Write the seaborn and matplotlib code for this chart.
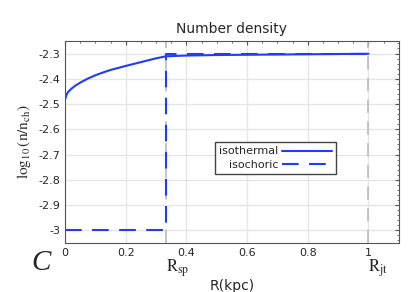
import matplotlib
matplotlib.use("Agg")
import matplotlib.pyplot as plt
import matplotlib.transforms as mtransforms
from matplotlib.ticker import MultipleLocator, FuncFormatter
import numpy as np
import pandas as pd
import seaborn as sns

# isothermal profile
r_iso = [0.0, 0.005, 0.01, 0.02, 0.035, 0.05, 0.075, 0.1, 0.125, 0.15, 0.2, 0.25, 0.3, 0.333,
         0.4, 0.5, 0.6, 0.7, 0.8, 0.9, 1.0]
n_iso = [-2.48, -2.462, -2.452, -2.44, -2.426, -2.415, -2.399, -2.386, -2.375, -2.365, -2.349,
         -2.334, -2.319, -2.311, -2.308, -2.306, -2.305, -2.304, -2.303, -2.302, -2.301]

# isochoric profile (step at R_sp)
r_ich = [0.0, 0.333, 0.333, 1.0]
n_ich = [-3.0, -3.0, -2.3, -2.3]

r_marks = [0.333, 1.0]
mark_labels = [r"$\mathrm{R_{sp}}$", r"$\mathrm{R_{jt}}$"]

sns.set_style("white")
plt.rcParams["mathtext.fontset"] = "stix"

blue = "#1e3cff"
fig = plt.figure(figsize=(4.15, 2.92), dpi=100)
ax = fig.add_axes([0.157, 0.168, 0.804, 0.692])

df_iso = pd.DataFrame({"R": r_iso, "n": n_iso})
df_ich = pd.DataFrame({"R": r_ich, "n": n_ich})

for xm in r_marks:
    ax.axvline(xm, color="#bbbbbb", lw=1.2, ls=(0, (8, 5)), zorder=1)

sns.lineplot(data=df_iso, x="R", y="n", ax=ax, color=blue, lw=1.5,
             estimator=None, sort=False, label="isothermal")
sns.lineplot(data=df_ich, x="R", y="n", ax=ax, color=blue, lw=1.5,
             estimator=None, sort=False, label="isochoric", linestyle=(0, (8, 5)))

ax.set_xlim(0, 1.1)
ax.set_ylim(-3.05, -2.25)
ax.xaxis.set_major_locator(MultipleLocator(0.2))
ax.xaxis.set_minor_locator(MultipleLocator(0.05))
ax.yaxis.set_major_locator(MultipleLocator(0.1))
ax.yaxis.set_minor_locator(MultipleLocator(0.02))
fmt = FuncFormatter(lambda v, p: "%g" % round(v, 3))
ax.xaxis.set_major_formatter(fmt)
ax.yaxis.set_major_formatter(fmt)
ax.grid(True, which="major", color="#e6e6e6", lw=1)
ax.set_axisbelow(True)
ax.tick_params(which="both", direction="in", top=True, right=True, labelsize=8,
               color="#555555", length=3)
ax.tick_params(which="minor", length=1.5)
for s in ax.spines.values():
    s.set_color("#555555")

ax.set_title("Number density", fontsize=10, pad=6)
ax.set_xlabel("R(kpc)", fontsize=10, labelpad=15)
ax.set_ylabel(r"$\mathrm{\log_{10}(n/n_{ch})}$", fontsize=11, labelpad=4)

trans = mtransforms.blended_transform_factory(ax.transData, ax.transAxes)
for xm, lab in zip(r_marks, mark_labels):
    ax.text(xm, -0.07, lab, transform=trans, ha="left", va="top", fontsize=12)

fig.text(0.10, 0.10, "C", fontsize=21, style="italic",
         ha="center", va="center", fontname="Liberation Serif")

leg = ax.legend(loc="center", bbox_to_anchor=(0.63, 0.42), markerfirst=False,
                fontsize=8, fancybox=False, framealpha=1, handlelength=4.5,
                borderpad=0.4, labelspacing=0.3, handletextpad=0.3)
leg.get_frame().set_edgecolor("#444444")
for t in leg.get_texts():
    t.set_ha("right")

fig.savefig("out.png", dpi=100)
